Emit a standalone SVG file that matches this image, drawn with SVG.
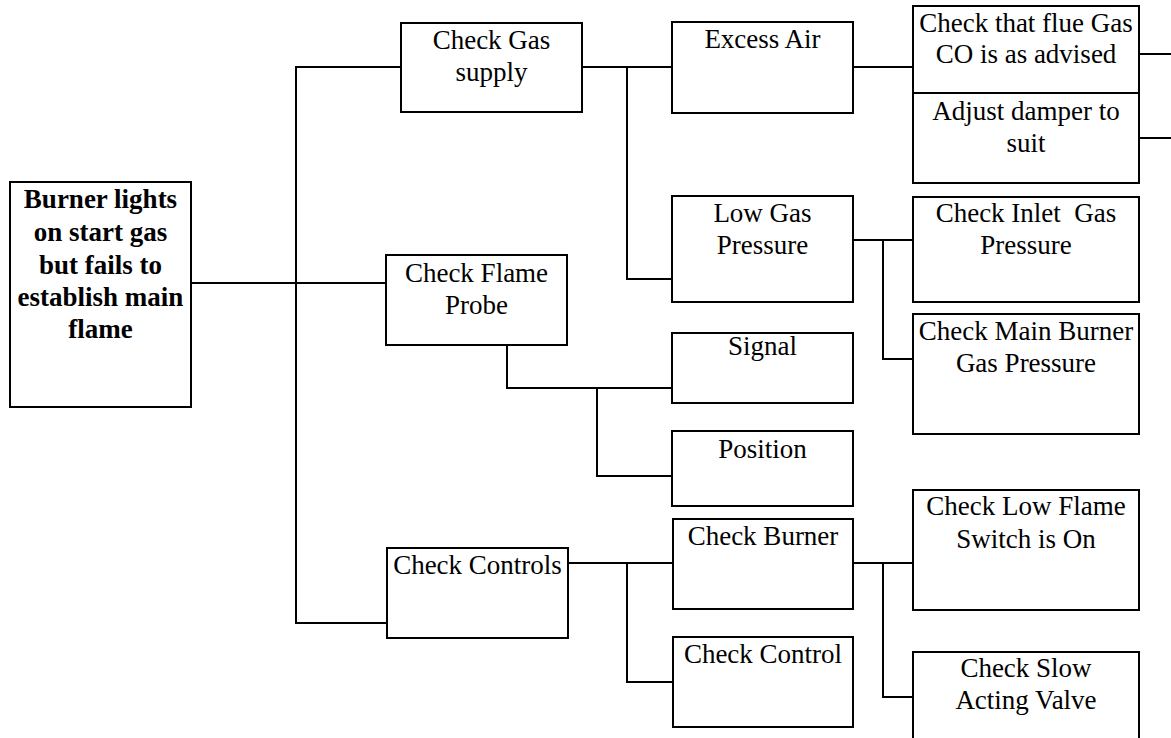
<svg xmlns="http://www.w3.org/2000/svg" width="1171" height="738" viewBox="0 0 1171 738">
<style>
.box{fill:#fff;stroke:#000;stroke-width:2}
.c{fill:none;stroke:#000;stroke-width:2}
text{font-family:'Liberation Serif','Times New Roman',serif;font-size:27px;fill:#000;text-anchor:middle}
.b{font-weight:bold}
</style>
<rect width="1171" height="738" fill="#fff"/>
<g id="connectors">
<polyline class="c" points="191,283 386,283"/>
<polyline class="c" points="401,67 296,67 296,623 387,623"/>
<polyline class="c" points="582,67 672,67"/>
<polyline class="c" points="627,67 627,279 672,279"/>
<polyline class="c" points="853,67 913,67"/>
<polyline class="c" points="1139,54 1171,54"/>
<polyline class="c" points="1139,138 1171,138"/>
<polyline class="c" points="853,240 913,240"/>
<polyline class="c" points="883,240 883,359 913,359"/>
<polyline class="c" points="507,343 507,388 672,388"/>
<polyline class="c" points="597,388 597,476 672,476"/>
<polyline class="c" points="568,563 673,563"/>
<polyline class="c" points="627,563 627,682 673,682"/>
<polyline class="c" points="853,563 913,563"/>
<polyline class="c" points="883,563 883,697 913,697"/>
</g>
<g id="root">
<rect class="box" x="10" y="182" width="181" height="225"/>
<text class="b" x="100.5" y="208">Burner lights</text>
<text class="b" x="100.5" y="241">on start gas</text>
<text class="b" x="100.5" y="274">but fails to</text>
<text class="b" x="100.5" y="306">establish main</text>
<text class="b" x="100.5" y="338">flame</text>
</g>
<g id="check-gas-supply">
<rect class="box" x="401" y="23" width="181" height="89"/>
<text x="491.5" y="49">Check Gas</text>
<text x="491.5" y="81">supply</text>
</g>
<g id="check-flame-probe">
<rect class="box" x="386" y="255" width="181" height="90"/>
<text x="476.5" y="282">Check Flame</text>
<text x="476.5" y="314">Probe</text>
</g>
<g id="check-controls">
<rect class="box" x="387" y="548" width="181" height="90"/>
<text x="477.5" y="574">Check Controls</text>
</g>
<g id="excess-air">
<rect class="box" x="672" y="22" width="181" height="91"/>
<text x="762.5" y="48">Excess Air</text>
</g>
<g id="low-gas-pressure">
<rect class="box" x="672" y="196" width="181" height="106"/>
<text x="762.5" y="222">Low Gas</text>
<text x="762.5" y="254">Pressure</text>
</g>
<g id="signal">
<rect class="box" x="672" y="333" width="181" height="70"/>
<text x="762.5" y="355">Signal</text>
</g>
<g id="position">
<rect class="box" x="672" y="431" width="181" height="75"/>
<text x="762.5" y="458">Position</text>
</g>
<g id="check-burner">
<rect class="box" x="673" y="519" width="180" height="90"/>
<text x="763" y="545">Check Burner</text>
</g>
<g id="check-control">
<rect class="box" x="673" y="637" width="180" height="90"/>
<text x="763" y="663">Check Control</text>
</g>
<g id="check-flue-gas">
<rect class="box" x="913" y="6" width="226" height="87"/>
<text x="1026" y="32">Check that flue Gas</text>
<text x="1026" y="63">CO is as advised</text>
</g>
<g id="adjust-damper">
<rect class="box" x="913" y="93" width="226" height="90"/>
<text x="1026" y="120">Adjust damper to</text>
<text x="1026" y="152">suit</text>
</g>
<g id="check-inlet">
<rect class="box" x="913" y="197" width="226" height="105"/>
<text x="1026" y="222" xml:space="preserve">Check Inlet  Gas</text>
<text x="1026" y="254">Pressure</text>
</g>
<g id="check-main-burner">
<rect class="box" x="913" y="314" width="226" height="120"/>
<text x="1026" y="340">Check Main Burner</text>
<text x="1026" y="372">Gas Pressure</text>
</g>
<g id="check-low-flame">
<rect class="box" x="913" y="490" width="226" height="120"/>
<text x="1026" y="515">Check Low Flame</text>
<text x="1026" y="548">Switch is On</text>
</g>
<g id="check-slow-valve">
<rect class="box" x="913" y="652" width="226" height="100"/>
<text x="1026" y="677">Check Slow</text>
<text x="1026" y="709">Acting Valve</text>
</g>
</svg>
